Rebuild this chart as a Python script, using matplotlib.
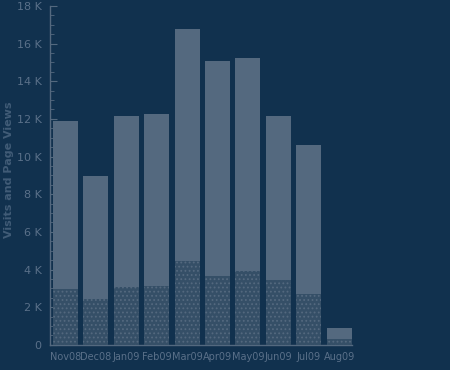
import matplotlib
matplotlib.use("Agg")
import matplotlib.pyplot as plt
from matplotlib.ticker import MultipleLocator, FuncFormatter

months = ["Nov08", "Dec08", "Jan09", "Feb09", "Mar09", "Apr09", "May09", "Jun09", "Jul09", "Aug09"]
page_views = [11900, 8950, 12150, 12250, 16800, 15100, 15250, 12150, 10600, 900]
visits = [2950, 2450, 3050, 3100, 4450, 3650, 3900, 3450, 2700, 300]

bg = "#11314e"
light = "#54697f"
txt = "#5a7089"

plt.rcParams["hatch.linewidth"] = 0.8
fig = plt.figure(figsize=(4.5, 3.7), dpi=100, facecolor=bg)
ax = fig.add_axes([0.111, 0.068, 0.671, 0.916], facecolor=bg)

x = list(range(len(months)))
ax.bar(x, page_views, width=0.82, color=light, edgecolor="none", zorder=2)
ax.bar(x, visits, width=0.82, color="#354f67", edgecolor=light, hatch="....",
       linewidth=0, zorder=3)

ax.set_xlim(-0.51, 9.42)
ax.set_ylim(0, 18000)
ax.yaxis.set_major_locator(MultipleLocator(2000))
ax.yaxis.set_minor_locator(MultipleLocator(500))
ax.yaxis.set_major_formatter(FuncFormatter(lambda v, p: "0" if v == 0 else f"{int(v/1000)} K"))
ax.set_xticks(x)
ax.set_xticklabels(months)

for s in ["top", "right"]:
    ax.spines[s].set_visible(False)
for s in ["left", "bottom"]:
    ax.spines[s].set_color(light)
    ax.spines[s].set_linewidth(1)

ax.tick_params(axis="y", which="major", direction="in", length=5, color=light,
               labelcolor=txt, labelsize=8, pad=6)
ax.tick_params(axis="y", which="minor", direction="in", length=3, color=light)
ax.tick_params(axis="x", which="major", direction="in", length=0, color=light,
               labelcolor=txt, labelsize=7, pad=5)

fig.text(9 / 450, 1 - 170 / 370, "Visits and Page Views", color="#415c77", fontsize=8,
         fontweight="bold", rotation=90, ha="center", va="center")

fig.savefig("out.png", dpi=100, facecolor=bg)
